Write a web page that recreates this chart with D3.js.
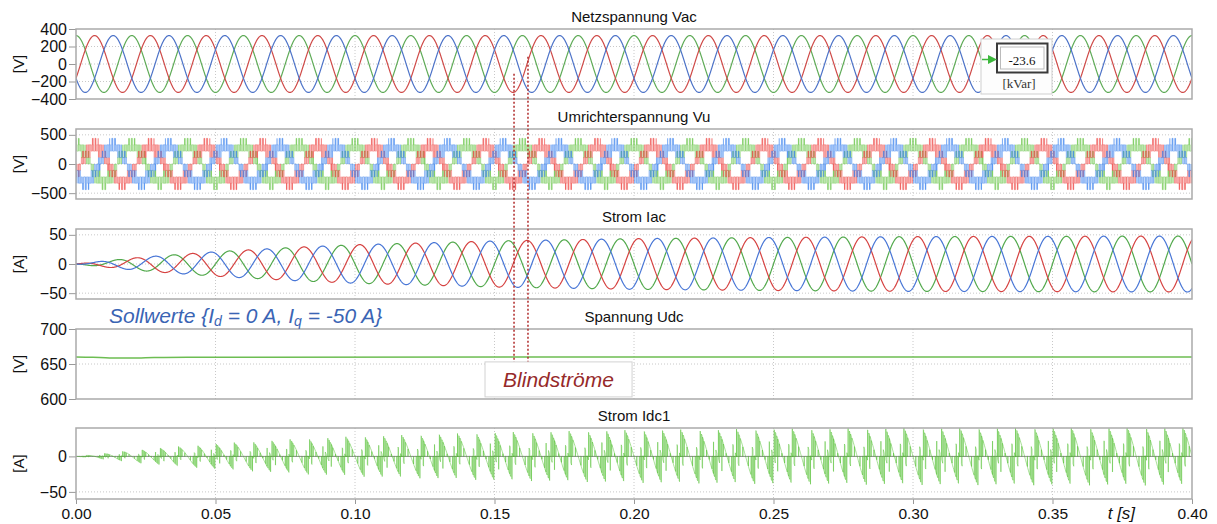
<!DOCTYPE html>
<html>
<head>
<meta charset="utf-8">
<script src="https://cdn.jsdelivr.net/npm/d3@7"></script>
<style>
  body { margin: 0; background: #fff; }
  svg { display: block; font-family: "Liberation Sans", Arial, Helvetica, sans-serif; }
</style>
</head>
<body>
<svg id="chart" width="1217" height="524"></svg>
<script>
// ---- data ----
const timeTicks = [0, 0.05, 0.10, 0.15, 0.20, 0.25, 0.30, 0.35, 0.40];
const gridFreq = 50;                     // Hz, 20 periods in 0.4 s
const phaseAngleDeg = [0, -120, 120];    // green, red, blue
const vacPeak = 325;                     // V

// Iac peak envelope (A), read at these times
const iacEnvT = [0, 0.01, 0.02, 0.03, 0.05, 0.08, 0.10, 0.15, 0.20, 0.25, 0.30, 0.40];
const iacEnvA = [0, 5, 10, 14, 21, 29, 33, 39.5, 43.5, 45.5, 47, 48];
const iacLeadDeg = 90;                   // reactive current, leads Vac

// Udc (V)
const udcT = [0, 0.006, 0.012, 0.02, 0.028, 0.04, 0.40];
const udcV = [660, 659.6, 658.6, 658.4, 659.2, 659.8, 660];

// converter: 3-level, level-shifted carriers; Idc1 = upper rail current
const udcNominal = 660;
const pwmCarrierHz = 1000;
const pwmIndex = 0.97;

const kvarValue = '-23.6';
const kvarUnit = '[kVar]';

const panelTitles = ['Netzspannung Vac', 'Umrichterspannung Vu', 'Strom Iac', 'Spannung Udc', 'Strom Idc1'];
const panelUnits = ['[V]', '[V]', '[A]', '[V]', '[A]'];
const panelDomains = [[-400, 400], [-600, 600], [-60, 60], [600, 700], [-60, 40]];
const panelTicks = [[400, 200, 0, -200, -400], [500, 0, -500], [50, 0, -50], [700, 650, 600], [0, -50]];

// ---- layout ----
const svg = d3.select('#chart');
const left = 76, right = 1192;
const panelTop = [29, 129, 229, 329, 428];
const panelBottom = [99, 199, 299, 399, 499];

const x = d3.scaleLinear().domain([0, 0.4]).range([left, right]);
const ys = panelDomains.map((d, i) => d3.scaleLinear().domain(d).range([panelBottom[i], panelTop[i]]));

const phaseColVac = ['#5fab57', '#cf4a48', '#4d73c8'];
const phaseColIac = ['#52a94c', '#d64342', '#4876d6'];
const phaseColVu = ['#6cc64c', '#ee4846', '#3f86ee'];

svg.append('rect').attr('width', 1217).attr('height', 524).attr('fill', '#fff');

const defs = svg.append('defs');
panelTop.forEach((t, i) => {
  defs.append('clipPath').attr('id', 'clip' + i)
    .append('rect').attr('x', left).attr('y', t).attr('width', right - left).attr('height', panelBottom[i] - t);
});

// panels: grid, axes, titles
panelTop.forEach((t, i) => {
  const g = svg.append('g');
  const y = ys[i];
  g.selectAll('.vg').data(timeTicks.slice(1, -1)).join('line')
    .attr('x1', d => x(d)).attr('x2', d => x(d)).attr('y1', t).attr('y2', panelBottom[i])
    .attr('stroke', '#c8c8c8').attr('stroke-dasharray', '1,2');
  g.selectAll('.hg').data(panelTicks[i].filter(v => v > panelDomains[i][0] && v < panelDomains[i][1])).join('line')
    .attr('x1', left).attr('x2', right).attr('y1', d => y(d)).attr('y2', d => y(d))
    .attr('stroke', '#c8c8c8').attr('stroke-dasharray', '1,2');

  const ax = g.append('g').attr('transform', `translate(${left},0)`)
    .call(d3.axisLeft(y).tickValues(panelTicks[i]).tickSize(7).tickPadding(2).tickFormat(d3.format('d')));
  ax.select('.domain').remove();
  ax.selectAll('line').attr('stroke', '#999');
  ax.selectAll('text').attr('font-size', 16).attr('fill', '#111').attr('font-family', null);

  g.append('text').attr('x', (left + right) / 2).attr('y', t - 7).attr('text-anchor', 'middle')
    .attr('font-size', 15).attr('fill', '#111').text(panelTitles[i]);
  g.append('text').attr('transform', `translate(24,${(t + panelBottom[i]) / 2}) rotate(-90)`)
    .attr('text-anchor', 'middle').attr('font-size', 15).attr('fill', '#111').text(panelUnits[i]);
});

// x axis
const xa = svg.append('g').attr('transform', `translate(0,${panelBottom[4]})`)
  .call(d3.axisBottom(x).tickValues(timeTicks).tickSize(5).tickPadding(4).tickFormat(d3.format('.2f')));
xa.select('.domain').remove();
xa.selectAll('line').attr('stroke', '#999');
xa.selectAll('text').attr('font-size', 15.5).attr('fill', '#111').attr('font-family', null);
svg.append('text').attr('x', x(0.3747)).attr('y', 519).attr('text-anchor', 'middle')
  .attr('font-size', 17).attr('font-style', 'italic').attr('fill', '#111').text('t [s]');

// ---- signals ----
const w = 2 * Math.PI * gridFreq;
const phi = phaseAngleDeg.map(d => d * Math.PI / 180);
const lead = iacLeadDeg * Math.PI / 180;
const env = d3.scaleLinear().domain(iacEnvT).range(iacEnvA).clamp(true);
const iac = (k, t) => env(t) * Math.cos(w * t + phi[k] + lead);

const tSmooth = d3.range(0, 0.40001, 1e-4);

// PWM simulation for Vu and Idc1
const dt = 5e-6, N = Math.round(0.4 / dt);
const vuPts = [[], [], []], idcPts = [];
let prevS = null, prevV = null;
const carrier = t => { const f = (t * pwmCarrierHz) % 1; return 2 * Math.abs(f - 0.5); }; // 1..0..1
const rail = (S, t) => S.reduce((a, s, k) => a + (s === 1 ? iac(k, t) : 0), 0);
for (let n = 0; n <= N; n++) {
  const t = n * dt;
  const cu = carrier(t), cl = cu - 1;
  const S = phi.map(p => {
    const r = pwmIndex * Math.cos(w * t + p);
    return r > cu ? 1 : (r < cl ? -1 : 0);
  });
  const mean = (S[0] + S[1] + S[2]) / 3;
  const V = S.map(s => udcNominal / 2 * (s - mean));
  const idc = rail(S, t);
  if (!prevS) {
    V.forEach((v, k) => vuPts[k].push({ t, v }));
    idcPts.push({ t, v: idc });
  } else {
    V.forEach((v, k) => {
      if (Math.abs(v - prevV[k]) > 1e-6) { vuPts[k].push({ t, v: prevV[k] }, { t, v }); }
    });
    const changed = S.some((s, k) => s !== prevS[k]);
    if (changed) idcPts.push({ t, v: rail(prevS, t) }, { t, v: idc });
    else if (n % 40 === 0) idcPts.push({ t, v: idc });
  }
  if (n === N) { V.forEach((v, k) => vuPts[k].push({ t, v })); idcPts.push({ t, v: idc }); }
  prevS = S; prevV = V;
}

const lineFor = y => d3.line().x(d => x(d.t)).y(d => y(d.v));

// Vac
const gVac = svg.append('g').attr('clip-path', 'url(#clip0)');
[0, 1, 2].forEach(k => {
  gVac.append('path').attr('fill', 'none').attr('stroke', phaseColVac[k]).attr('stroke-width', 1.2)
    .attr('d', lineFor(ys[0])(tSmooth.map(t => ({ t, v: vacPeak * Math.cos(w * t + phi[k]) }))));
});

// Vu
const gVu = svg.append('g').attr('clip-path', 'url(#clip1)');
[0, 1, 2].forEach(k => {
  gVu.append('path').attr('fill', 'none').attr('stroke', phaseColVu[k]).attr('stroke-width', 0.6)
    .attr('stroke-opacity', 0.72).attr('d', lineFor(ys[1])(vuPts[k]));
});

// Iac
const gIac = svg.append('g').attr('clip-path', 'url(#clip2)');
[0, 1, 2].forEach(k => {
  gIac.append('path').attr('fill', 'none').attr('stroke', phaseColIac[k]).attr('stroke-width', 1.2)
    .attr('d', lineFor(ys[2])(tSmooth.map(t => ({ t, v: iac(k, t) }))));
});

// Udc
svg.append('g').attr('clip-path', 'url(#clip3)').append('path')
  .attr('fill', 'none').attr('stroke', '#6dbd52').attr('stroke-width', 1.5)
  .attr('d', lineFor(ys[3]).curve(d3.curveMonotoneX)(udcT.map((t, i) => ({ t, v: udcV[i] }))));

// Idc1
const gIdc = svg.append('g').attr('clip-path', 'url(#clip4)');
gIdc.append('line').attr('x1', left).attr('x2', right).attr('y1', ys[4](0)).attr('y2', ys[4](0))
  .attr('stroke', '#8a8a8a').attr('stroke-width', 1);
gIdc.append('path').attr('fill', 'none').attr('stroke', '#4fbf2c').attr('stroke-width', 0.5)
  .attr('d', lineFor(ys[4])(idcPts));

// panel frames on top
panelTop.forEach((t, i) => {
  svg.append('rect').attr('x', left).attr('y', t).attr('width', right - left).attr('height', panelBottom[i] - t)
    .attr('fill', 'none').attr('stroke', '#aaa').attr('stroke-width', 1.5);
});

// ---- annotations ----
const markerT = [0.157, 0.162];
const markerTopVac = [-112, 82];
const blind = { t0: 0.1466, t1: 0.1993, v0: 603, v1: 653 };
markerT.forEach((t, i) => {
  svg.append('line').attr('x1', x(t)).attr('x2', x(t)).attr('y1', ys[0](markerTopVac[i])).attr('y2', ys[3](blind.v1))
    .attr('stroke', '#b02a2a').attr('stroke-width', 1.5).attr('stroke-dasharray', '2,2');
});
svg.append('rect').attr('x', x(blind.t0)).attr('y', ys[3](blind.v1))
  .attr('width', x(blind.t1) - x(blind.t0)).attr('height', ys[3](blind.v0) - ys[3](blind.v1))
  .attr('fill', '#fff').attr('stroke', '#d2d2d2');
svg.append('text').attr('x', (x(blind.t0) + x(blind.t1)) / 2).attr('y', 387).attr('text-anchor', 'middle')
  .attr('font-size', 21).attr('font-style', 'italic').attr('fill', '#962a2a').text('Blindströme');

const soll = svg.append('text').attr('x', 109).attr('y', 323).attr('font-size', 21)
  .attr('font-style', 'italic').attr('fill', '#3a64b4');
soll.append('tspan').text('Sollwerte {I');
soll.append('tspan').attr('font-size', 14).attr('dy', 3).text('d');
soll.append('tspan').attr('dy', -3).text(' = 0 A, I');
soll.append('tspan').attr('font-size', 14).attr('dy', 3).text('q');
soll.append('tspan').attr('dy', -3).text(' = -50 A}');

// kVar display
const kb = svg.append('g');
kb.append('rect').attr('x', 981).attr('y', 39).attr('width', 71).attr('height', 55)
  .attr('fill', '#fdfdfd').attr('stroke', '#cfcfcf');
kb.append('rect').attr('x', 997).attr('y', 43.5).attr('width', 50.5).attr('height', 29)
  .attr('fill', '#fff').attr('stroke', '#3a3a3a').attr('stroke-width', 2);
kb.append('rect').attr('x', 1000.5).attr('y', 47).attr('width', 43.5).attr('height', 22)
  .attr('fill', 'none').attr('stroke', '#bbb').attr('stroke-width', 1);
kb.append('line').attr('x1', 982).attr('x2', 990).attr('y1', 59.5).attr('y2', 59.5)
  .attr('stroke', '#3db83d').attr('stroke-width', 1.5);
kb.append('path').attr('d', 'M988,55 L997,59.5 L988,64 Z').attr('fill', '#3db83d');
kb.append('text').attr('x', 1022).attr('y', 64.5).attr('text-anchor', 'middle')
  .attr('font-family', '"Liberation Serif", "DejaVu Serif", serif').attr('font-size', 13).attr('fill', '#111').text(kvarValue);
kb.append('text').attr('x', 1019).attr('y', 88).attr('text-anchor', 'middle')
  .attr('font-family', '"Liberation Serif", "DejaVu Serif", serif').attr('font-size', 13).attr('fill', '#333').text(kvarUnit);
</script>
</body>
</html>
